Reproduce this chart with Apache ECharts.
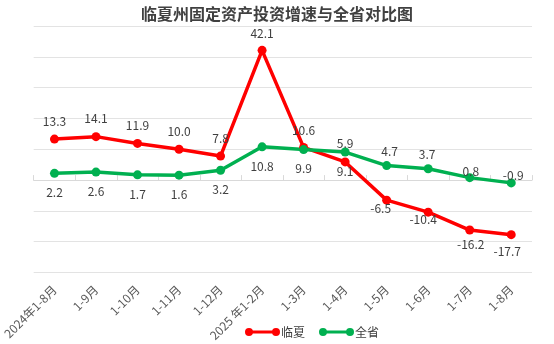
<!DOCTYPE html>
<html>
<head>
<meta charset="utf-8">
<script src="https://cdn.jsdelivr.net/npm/echarts@6/dist/echarts.min.js"></script>
<style>
html,body{margin:0;padding:0;background:#fff;}
#chart{width:554px;height:344px;}
</style>
</head>
<body>
<div id="chart"></div>
<script>
// ---- data ----
const categories = ['2024年1-8月','1-9月','1-10月','1-11月','1-12月','2025 年1-2月','1-3月','1-4月','1-5月','1-6月','1-7月','1-8月'];
const linxiaValues = [13.3, 14.1, 11.9, 10.0, 7.8, 42.1, 10.6, 5.9, -6.5, -10.4, -16.2, -17.7];
const gansuValues  = [2.2, 2.6, 1.7, 1.6, 3.2, 10.8, 9.9, 9.1, 4.7, 3.7, 0.8, -0.9];
const seriesNames = ['临夏', '全省'];
const yTicks = {min: -30, max: 50, interval: 10};

// ---- label placement (layout only) ----
const linxiaLabelOffsets = [[0,-18],[0,-18],[0,-18],[0,-18],[0,-18],[0,-17],[0,-17],[0,-18],[-6,8],[-5,7],[1,14],[-4,16.5]];
const gansuLabelOffsets  = [[0,19.5],[0,19.5],[0,19.5],[0,19.5],[0,19.5],[0,19.5],[0,19],[0,19],[3,-14],[-1,-14],[1,-6.5],[2,-7]];

const FONT = '"Noto Sans CJK SC", "Noto Sans", sans-serif';
const legendIcon = 'path://M0,4A4,4,0,1,1,8,4A4,4,0,1,1,0,4Z M27,4A4,4,0,1,1,35,4A4,4,0,1,1,27,4Z M4,2.5L31,2.5L31,5.5L4,5.5Z';

function buildData(values, offsets) {
  return values.map((v, i) => ({
    value: v,
    label: {position: 'inside', offset: offsets[i]}
  }));
}

const chart = echarts.init(document.getElementById('chart'), null, {renderer: 'canvas'});
chart.setOption({
  animation: false,
  backgroundColor: '#ffffff',
  textStyle: {fontFamily: FONT},
  title: {
    text: '临夏州固定资产投资增速与全省对比图',
    left: 'center',
    top: 1,
    textStyle: {fontSize: 16, fontWeight: 'bold', color: '#404040', fontFamily: FONT}
  },
  legend: {
    data: seriesNames,
    left: 240,
    top: 321,
    icon: legendIcon,
    itemWidth: 35,
    itemHeight: 8,
    itemGap: 14,
    textStyle: {fontSize: 12, color: '#404040', fontFamily: FONT, padding: [0, 0, 0, -4]}
  },
  grid: {left: 32, right: 22, top: 26, bottom: 69, containLabel: false},
  xAxis: [
    {
      type: 'category',
      data: categories,
      position: 'bottom',
      boundaryGap: true,
      axisLine: {show: false, onZero: false},
      axisTick: {show: false},
      splitLine: {show: false},
      axisLabel: {rotate: 45, margin: 15, interval: 0, fontSize: 12, color: '#595959', fontFamily: FONT}
    },
    {
      type: 'category',
      data: categories,
      position: 'bottom',
      boundaryGap: true,
      axisLine: {show: true, onZero: true, lineStyle: {color: '#d9d9d9', width: 1}},
      axisTick: {show: true, inside: true, length: 5, interval: 0, lineStyle: {color: '#d9d9d9'}},
      axisLabel: {show: false},
      splitLine: {show: false}
    }
  ],
  yAxis: {
    type: 'value',
    min: yTicks.min,
    max: yTicks.max,
    interval: yTicks.interval,
    axisLine: {show: false},
    axisTick: {show: false},
    axisLabel: {show: false},
    splitLine: {lineStyle: {color: '#e3e3e3', width: 1}}
  },
  series: [
    {
      name: seriesNames[0],
      type: 'line',
      data: buildData(linxiaValues, linxiaLabelOffsets),
      symbol: 'circle',
      symbolSize: 9,
      lineStyle: {color: '#ff0000', width: 3.5},
      itemStyle: {color: '#ff0000'},
      label: {show: true, fontSize: 12, color: '#404040', fontFamily: FONT,
        formatter: p => Number(p.value).toFixed(1)}
    },
    {
      name: seriesNames[1],
      type: 'line',
      data: buildData(gansuValues, gansuLabelOffsets),
      symbol: 'circle',
      symbolSize: 9,
      lineStyle: {color: '#00b050', width: 3.5},
      itemStyle: {color: '#00b050'},
      label: {show: true, fontSize: 12, color: '#404040', fontFamily: FONT,
        formatter: p => Number(p.value).toFixed(1)}
    }
  ]
});
</script>
</body>
</html>
